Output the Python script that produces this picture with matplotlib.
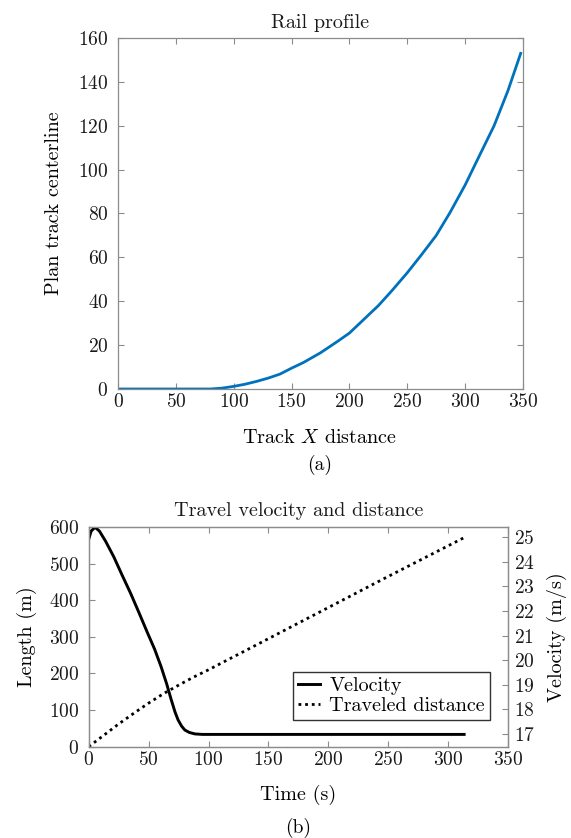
import matplotlib
matplotlib.use("Agg")
import matplotlib.pyplot as plt
import numpy as np

plt.rcParams['font.family'] = ['cmr10', 'DejaVu Serif']
plt.rcParams['mathtext.fontset'] = 'cm'
plt.rcParams['axes.formatter.use_mathtext'] = True
plt.rcParams['axes.unicode_minus'] = False

# ---- Data: rail profile ----
track_x = [0, 20, 40, 60, 80, 90, 100, 110, 120, 130, 140, 150, 160, 175, 190, 200,
           212, 225, 237, 250, 262, 275, 287, 300, 312, 325, 337, 348]
centerline = [0, 0, 0, 0, 0, 0.4, 1.2, 2.2, 3.5, 5.0, 6.8, 9.5, 12.0, 16.5, 21.8, 25.5,
              31.5, 38.0, 45.0, 53.0, 61.0, 70.0, 80.5, 93.0, 106.0, 120.0, 136.0, 153.0]

# ---- Data: travel velocity and distance ----
time_v = [0, 2, 5.3, 9, 14, 20.9, 28, 35, 42, 49.2, 55, 60.4, 65, 68.9, 72, 74.6,
          77.5, 80.2, 84, 88.6, 95, 120, 160, 200, 250, 313.4]
velocity = [24.92, 25.25, 25.41, 25.25, 24.85, 24.21, 23.45, 22.72, 21.93, 21.10,
            20.45, 19.74, 19.05, 18.39, 17.90, 17.57, 17.32, 17.16, 17.06, 17.00,
            16.98, 16.98, 16.98, 16.98, 16.98, 16.98]

time_d = [0, 12.5, 25, 37.5, 50, 62.5, 75, 87.5, 100, 150, 200, 250, 313.4]
distance = [0, 31, 62, 91, 119, 145, 168, 190, 210, 295, 380, 465, 571]

fig = plt.figure(figsize=(5.71, 8.38), dpi=100)

spine_col = '#8c8c8c'
tfs = 14
lfs = 14.5

def style(ax):
    for s in ax.spines.values():
        s.set_color(spine_col)
        s.set_linewidth(0.9)
    ax.tick_params(direction='in', length=4, width=0.8, color=spine_col,
                   labelsize=tfs, labelcolor='#1a1a1a')

# ---- Top plot ----
ax1 = fig.add_axes([118/571, 1-389/838, (523-118)/571, (389-38)/838])
ax1.plot(track_x, centerline, color='#0072BD', lw=2.0)
ax1.set_xlim(0, 350)
ax1.set_ylim(0, 160)
ax1.set_xticks(np.arange(0, 351, 50))
ax1.set_yticks(np.arange(0, 161, 20))
style(ax1)
ax1.tick_params(top=True, right=True)
ax1.tick_params(axis='x', pad=3)
ax1.tick_params(axis='y', pad=7)
ax1.set_title('Rail profile', fontsize=lfs, pad=7, color='#1a1a1a')
fig.text(320/571, 1-438/838, r'Track $X$ distance', ha='center', va='center', fontsize=lfs)
fig.text(320/571, 1-465/838, '(a)', ha='center', va='center', fontsize=lfs - 0.5)
fig.text(54/571, 1-203/838, 'Plan track centerline', ha='center', va='center',
         rotation=90, fontsize=lfs)

# ---- Bottom plot ----
ax2 = fig.add_axes([88.7/571, 1-746.7/838, (508-88.7)/571, (746.7-527)/838])
ax3 = ax2.twinx()
l2, = ax2.plot(time_d, distance, color='black', lw=2.0, linestyle=(0, (1, 1.4)),
               label='Traveled distance')
l1, = ax3.plot(time_v, velocity, color='black', lw=2.1, label='Velocity')
ax2.set_xlim(0, 350)
ax2.set_ylim(0, 600)
ax3.set_ylim(16.48, 25.42)
ax2.set_xticks(np.arange(0, 351, 50))
ax2.set_yticks(np.arange(0, 601, 100))
ax3.set_yticks(np.arange(17, 26, 1))
style(ax2)
style(ax3)
ax2.tick_params(top=True)
ax2.tick_params(axis='x', pad=3)
ax2.tick_params(axis='y', pad=7)
ax3.tick_params(axis='y', pad=4)
ax2.set_title('Travel velocity and distance', fontsize=lfs, pad=8, color='#1a1a1a')
fig.text(298/571, 1-795/838, 'Time (s)', ha='center', va='center', fontsize=lfs)
fig.text(298/571, 1-828/838, '(b)', ha='center', va='center', fontsize=lfs - 0.5)
fig.text(27/571, 1-637/838, 'Length (m)', ha='center', va='center', rotation=90, fontsize=lfs)
fig.text(557/571, 1-637/838, 'Velocity (m/s)', ha='center', va='center', rotation=90, fontsize=lfs)

leg = ax3.legend([l1, l2], ['Velocity', 'Traveled distance'], loc='lower right',
                 bbox_to_anchor=(490/571, 1-720/838), bbox_transform=fig.transFigure,
                 fontsize=lfs, frameon=True, fancybox=False, handlelength=1.1,
                 handletextpad=0.45, borderpad=0.25, labelspacing=0.1, borderaxespad=0)
leg.get_frame().set_edgecolor('black')
leg.get_frame().set_linewidth(1.0)

fig.savefig('out.png', dpi=100)
